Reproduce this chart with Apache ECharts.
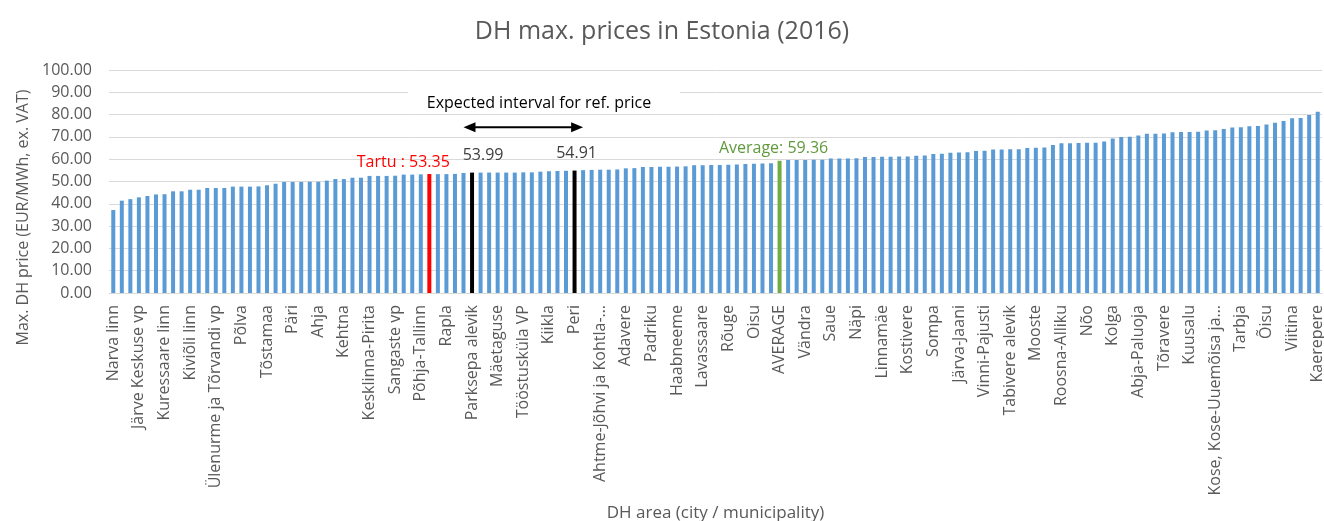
<!DOCTYPE html>
<html lang="en">
  <head>
    <meta charset="UTF-8" />
    <title>DH max. prices in Estonia (2016)</title>
    <script src="https://cdn.jsdelivr.net/npm/echarts@6/dist/echarts.min.js"></script>
  </head>
  <body style="margin: 0;">
    <div id="chart" style="width: 1324px; height: 521px;"></div>
    <script>
      // names printed on the axis (every third bar)
      const shownAreas = [
        'Narva linn', 'Järve Keskuse vp', 'Kuressaare linn', 'Kiviõli linn',
        'Ülenurme ja Tõrvandi vp', 'Põlva', 'Tõstamaa', 'Päri', 'Ahja', 'Kehtna',
        'Kesklinna-Pirita', 'Sangaste vp', 'Põhja-Tallinn', 'Rapla', 'Parksepa alevik',
        'Mäetaguse', 'Tööstusküla VP', 'Kiikla', 'Peri', 'Ahtme-Jõhvi ja Kohtla-…',
        'Adavere', 'Padriku', 'Haabneeme', 'Lavassaare', 'Rõuge', 'Oisu', 'AVERAGE',
        'Vändra', 'Saue', 'Näpi', 'Linnamäe', 'Kostivere', 'Sompa', 'Järva-Jaani',
        'Vinni-Pajusti', 'Tabivere alevik', 'Mooste', 'Roosna-Alliku', 'Nõo', 'Kolga',
        'Abja-Paluoja', 'Tõravere', 'Kuusalu', 'Kose, Kose-Uuemõisa ja…', 'Tarbja',
        'Õisu', 'Viitina', 'Kaerepere'
      ]
      const labelStep = 3

      // max DH price, EUR/MWh ex. VAT, sorted ascending
      const prices = [
        37.2, 41.4, 42.1, 42.9, 43.5, 44.2, 44.3, 45.6, 45.6, 46.3,
        46.3, 47.1, 47.1, 47.1, 47.7, 47.7, 47.7, 47.8, 48.3, 49.0,
        49.8, 49.8, 49.8, 49.9, 49.9, 50.4, 51.1, 51.1, 51.7, 51.7,
        52.5, 52.5, 52.5, 52.6, 53.1, 53.1, 53.2, 53.35, 53.3, 53.3,
        53.4, 53.8, 53.99, 54.0, 54.0, 54.0, 54.0, 54.0, 54.1, 54.1,
        54.4, 54.6, 54.7, 54.8, 54.91, 55.1, 55.2, 55.3, 55.3, 55.4,
        55.9, 56.0, 56.5, 56.5, 56.6, 56.6, 56.7, 56.8, 57.3, 57.3,
        57.4, 57.4, 57.5, 57.6, 57.9, 58.0, 58.1, 58.2, 59.36, 59.6,
        59.6, 59.6, 59.7, 59.7, 60.3, 60.3, 60.3, 60.4, 61.0, 61.0,
        61.1, 61.1, 61.2, 61.2, 61.6, 61.7, 62.3, 62.4, 62.9, 63.0,
        63.1, 63.7, 63.8, 64.4, 64.4, 64.5, 64.5, 65.0, 65.1, 65.2,
        66.4, 67.2, 67.2, 67.3, 67.4, 67.4, 67.9, 69.3, 70.0, 70.1,
        70.6, 71.4, 71.4, 71.5, 72.1, 72.2, 72.2, 72.3, 72.9, 73.0,
        73.5, 74.2, 74.3, 74.8, 74.9, 75.6, 76.3, 77.1, 78.4, 78.5,
        79.8, 81.3
      ]

      // highlighted bars
      const tartuIndex = 37
      const lowRefIndex = 42
      const highRefIndex = 54
      const averageIndex = 78
      const intervalArrowValue = 74.3

      let categories = prices.map(() => '')
      shownAreas.forEach((name, i) => (categories[i * labelStep] = name))
      categories[tartuIndex] = 'Tartu'

      const fontFamily = '"Open Sans", "Noto Sans", sans-serif'
      const grey = '#595959'

      let barData = prices.map((v, i) => {
        if (i === tartuIndex)
          return {
            value: v,
            itemStyle: { color: '#ff0000' },
            label: { show: true, color: '#ff0000', formatter: 'Tartu : ' + v.toFixed(2), offset: [-26, 0] }
          }
        if (i === lowRefIndex || i === highRefIndex)
          return {
            value: v,
            itemStyle: { color: '#000000' },
            label: { show: true, color: '#404040', formatter: v.toFixed(2), offset: [i === lowRefIndex ? 11 : 2, -5] }
          }
        if (i === averageIndex)
          return {
            value: v,
            itemStyle: { color: '#70ad47' },
            label: { show: true, color: '#5f9a3c', formatter: 'Average: ' + v.toFixed(2), offset: [-6, 0] }
          }
        return v
      })

      let chart = echarts.init(document.getElementById('chart'))
      let option = {
        backgroundColor: '#ffffff',
        animation: false,
        textStyle: { fontFamily },
        title: {
          text: 'DH max. prices in Estonia (2016)',
          left: 'center',
          top: 14,
          textStyle: { color: grey, fontSize: 25, fontWeight: 'normal', fontFamily }
        },
        grid: { left: 109, right: 2, top: 70, bottom: 228, outerBoundsMode: 'none' },
        xAxis: {
          type: 'category',
          data: categories,
          name: 'DH area (city / municipality)',
          nameLocation: 'middle',
          nameGap: 212,
          nameTextStyle: { color: grey, fontSize: 17 },
          axisLine: { lineStyle: { color: '#d9d9d9' } },
          axisTick: { show: false },
          axisLabel: {
            interval: labelStep - 1,
            rotate: 90,
            margin: 12,
            color: grey,
            fontSize: 16
          }
        },
        yAxis: {
          type: 'value',
          min: 0,
          max: 100,
          interval: 10,
          name: 'Max. DH price (EUR/MWh, ex. VAT)',
          nameLocation: 'middle',
          nameGap: 77,
          nameTextStyle: { color: grey, fontSize: 16, padding: [0, 72, 0, 0] },
          axisLine: { show: false },
          axisTick: { show: false },
          axisLabel: { color: grey, fontSize: 16, margin: 17, formatter: v => v.toFixed(2) },
          splitLine: { lineStyle: { color: '#d9d9d9' } }
        },
        series: [
          {
            type: 'bar',
            data: barData,
            barWidth: 4,
            itemStyle: { color: '#5b9bd5' },
            label: { position: 'top', fontSize: 16, distance: 4 }
          }
        ]
      }
      chart.setOption(option)

      // annotation: box with text and a double arrow between the two reference bars
      let p1 = chart.convertToPixel({ xAxisIndex: 0, yAxisIndex: 0 }, [lowRefIndex - 0.6, intervalArrowValue])
      let p2 = chart.convertToPixel({ xAxisIndex: 0, yAxisIndex: 0 }, [highRefIndex + 1.4, intervalArrowValue])
      let head = 12
      chart.setOption({
        graphic: [
          {
            type: 'rect',
            z: 100,
            shape: { x: 408, y: 86, width: 272, height: 26 },
            style: { fill: '#ffffff' }
          },
          {
            type: 'text',
            z: 101,
            x: 539,
            y: 103,
            style: {
              text: 'Expected interval for ref. price',
              fill: '#000000',
              font: '16px ' + fontFamily,
              align: 'center',
              verticalAlign: 'middle'
            }
          },
          {
            type: 'line',
            z: 101,
            shape: { x1: p1[0] + head - 1, y1: p1[1], x2: p2[0] - head + 1, y2: p2[1] },
            style: { stroke: '#000000', lineWidth: 2 }
          },
          {
            type: 'polygon',
            z: 101,
            shape: { points: [[p1[0], p1[1]], [p1[0] + head, p1[1] - 5], [p1[0] + head, p1[1] + 5]] },
            style: { fill: '#000000' }
          },
          {
            type: 'polygon',
            z: 101,
            shape: { points: [[p2[0], p2[1]], [p2[0] - head, p2[1] - 5], [p2[0] - head, p2[1] + 5]] },
            style: { fill: '#000000' }
          }
        ]
      })
    </script>
  </body>
</html>
